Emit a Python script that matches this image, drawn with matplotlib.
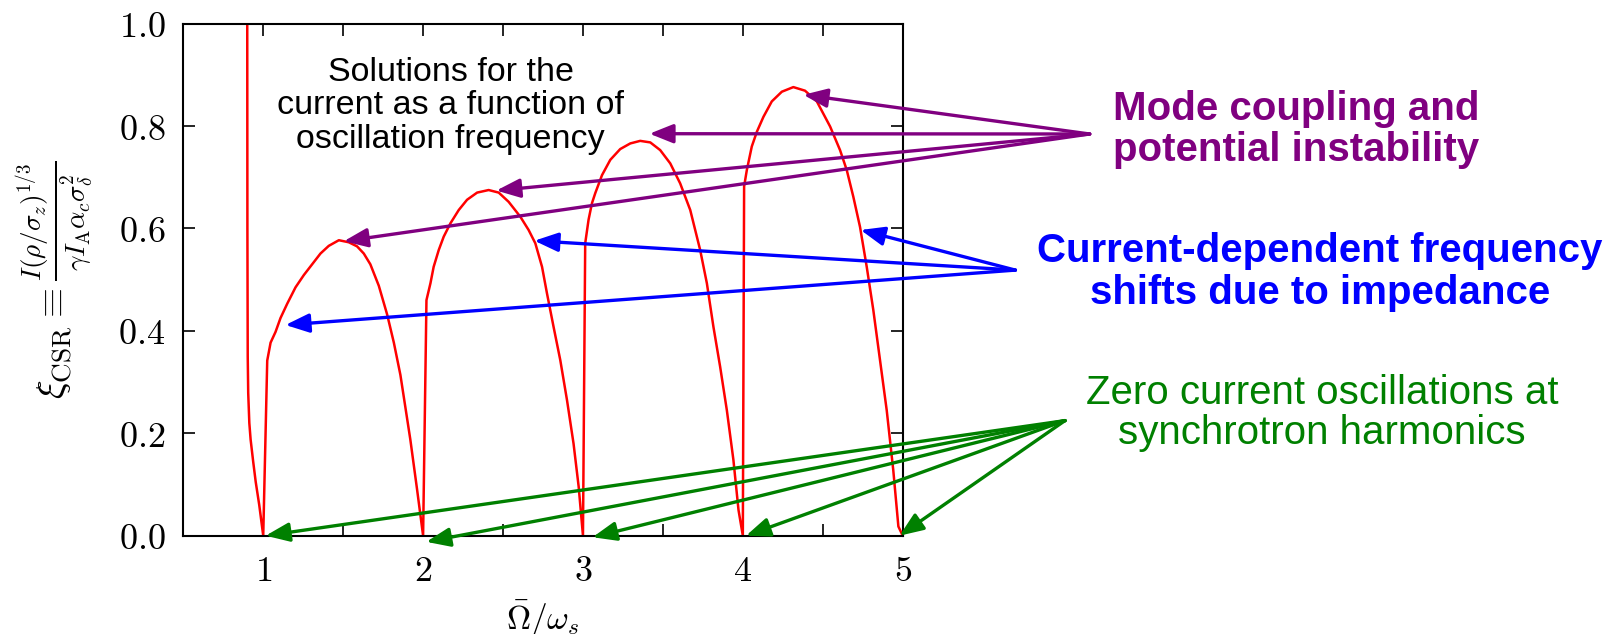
import numpy as np
import matplotlib
matplotlib.use("Agg")
import matplotlib.pyplot as plt

plt.rcParams['mathtext.fontset'] = 'cm'

# curve: left branch, then one lobe per harmonic
branch0_x = [0.900, 0.901, 0.903, 0.906, 0.913, 0.921, 0.937, 0.953, 0.975, 1.0]
branch0_y = [1.0, 0.60, 0.35, 0.279, 0.22, 0.188, 0.145, 0.105, 0.06, 0.0]
lobe1_x = [1.025, 1.046, 1.077, 1.108, 1.15, 1.202, 1.254, 1.306, 1.358, 1.41, 1.473, 1.535,
           1.587, 1.629, 1.67, 1.723, 1.775, 1.817, 1.858, 1.889, 1.92, 1.962, 2.0]
lobe1_y = [0.342, 0.377, 0.398, 0.425, 0.453, 0.485, 0.509, 0.530, 0.551, 0.566, 0.577, 0.573,
           0.565, 0.551, 0.530, 0.488, 0.432, 0.377, 0.314, 0.251, 0.188, 0.091, 0.0]
lobe2_x = [2.021, 2.046, 2.066, 2.098, 2.129, 2.171, 2.223, 2.275, 2.338, 2.41, 2.473, 2.535,
           2.608, 2.66, 2.702, 2.744, 2.775, 2.816, 2.858, 2.9, 2.941, 2.973, 3.0]
lobe2_y = [0.460, 0.493, 0.525, 0.558, 0.584, 0.610, 0.636, 0.656, 0.670, 0.675, 0.670, 0.652,
           0.623, 0.597, 0.571, 0.525, 0.473, 0.408, 0.343, 0.265, 0.180, 0.096, 0.0]
lobe3_x = [3.014, 3.035, 3.056, 3.077, 3.119, 3.171, 3.233, 3.296, 3.358, 3.421, 3.483, 3.546,
           3.608, 3.671, 3.733, 3.775, 3.816, 3.858, 3.9, 3.941, 3.973, 4.0]
lobe3_y = [0.571, 0.617, 0.649, 0.669, 0.704, 0.734, 0.755, 0.766, 0.771, 0.768, 0.753, 0.727,
           0.688, 0.636, 0.558, 0.493, 0.408, 0.330, 0.245, 0.148, 0.050, 0.0]
lobe4_x = [4.008, 4.025, 4.056, 4.088, 4.129, 4.181, 4.244, 4.316, 4.389, 4.463, 4.546, 4.608,
           4.65, 4.691, 4.733, 4.775, 4.816, 4.858, 4.9, 4.941, 4.973, 5.0]
lobe4_y = [0.682, 0.714, 0.760, 0.789, 0.818, 0.848, 0.867, 0.876, 0.869, 0.848, 0.799, 0.753,
           0.714, 0.662, 0.603, 0.525, 0.441, 0.343, 0.245, 0.128, 0.018, 0.0]

xticks = [1, 2, 3, 4, 5]
xticklabels = ['1', '2', '3', '4', '5']
yticks = [0.0, 0.2, 0.4, 0.6, 0.8, 1.0]
yticklabels = ['0.0', '0.2', '0.4', '0.6', '0.8', '1.0']

# arrow targets (data coords)
mode_pts = [(1.504, 0.575), (2.458, 0.674), (3.416, 0.785), (4.379, 0.861)]
shift_pts = [(1.139, 0.4115), (2.696, 0.576), (4.737, 0.597)]
zero_pts = [(1.015, 0.0), (2.02, -0.012), (3.06, -0.003), (4.02, 0.0), (4.98, 0.0)]

W, H = 1616, 634
fig = plt.figure(figsize=(W / 100, H / 100), dpi=100)
ax = fig.add_axes([183.3 / W, 1 - 535.7 / H, (902.7 - 183.3) / W, (535.7 - 23.6) / H])

xs = branch0_x + lobe1_x + lobe2_x + lobe3_x + lobe4_x
ys = branch0_y + lobe1_y + lobe2_y + lobe3_y + lobe4_y
ax.plot(xs, ys, color='#ff0000', lw=1.8, solid_joinstyle='round')

ax.set_xlim(0.5, 5)
ax.set_ylim(0, 1)
ax.set_xticks(xticks)
ax.set_xticklabels(['$%s$' % t for t in xticklabels])
ax.set_xticks(np.arange(1.5, 5, 1.0), minor=True)
ax.set_yticks(yticks)
ax.set_yticklabels(['$%s$' % t for t in yticklabels])
ax.tick_params(which='both', direction='in', top=True, right=True, length=8.5, width=1.2, labelsize=26)
ax.tick_params(axis='x', pad=13)
ax.tick_params(axis='y', pad=13)
for s in ax.spines.values():
    s.set_linewidth(1.5)

ax.set_xlabel(r'$\bar{\Omega}/\omega_s$', fontsize=24, labelpad=8)
ax.set_ylabel(r'$\xi_{\rm CSR} \equiv \frac{I(\rho/\sigma_z)^{1/3}}{\gamma I_{\rm A}\alpha_c\sigma_\delta^2}$',
              fontsize=28, labelpad=16)

ax.text(450.5 / W, 1 - 106 / H, 'Solutions for the\ncurrent as a function of\noscillation frequency',
        transform=fig.transFigure, ha='center', va='center', fontsize=24.5,
        family='Liberation Sans', linespacing=1.1)


def arrows(pts, tail, color, label, weight, center):
    for p in pts:
        ax.annotate('', xy=p, xycoords='data', xytext=tail, textcoords='figure fraction',
                    annotation_clip=False,
                    arrowprops=dict(arrowstyle='-|>,head_length=0.8,head_width=0.32', color=color,
                                    lw=2.4, mutation_scale=18, shrinkA=0, shrinkB=0))
    fig.text(center[0], center[1], label, ha='center', va='center', color=color,
             fontsize=29, fontweight=weight, family='Liberation Sans', linespacing=1.1)


arrows(mode_pts, (1089.7 / W, 1 - 134 / H), '#800080',
       'Mode coupling and\npotential instability', 'bold', (1296 / W, 1 - 129 / H))
arrows(shift_pts, (1015.4 / W, 1 - 270.1 / H), '#0000ff',
       'Current-dependent frequency\nshifts due to impedance', 'bold', (1320 / W, 1 - 272 / H))
arrows(zero_pts, (1065 / W, 1 - 420.6 / H), '#008000',
       'Zero current oscillations at\nsynchrotron harmonics', 'normal', (1322 / W, 1 - 413 / H))

fig.savefig('out.png', dpi=100)
